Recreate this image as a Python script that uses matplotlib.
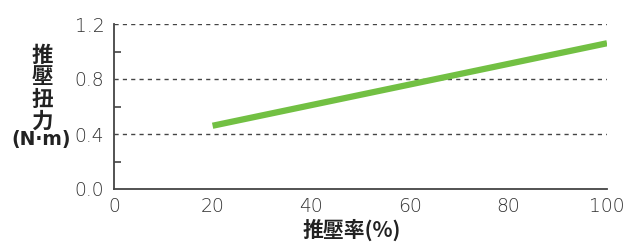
import matplotlib
matplotlib.use("Agg")
import matplotlib.pyplot as plt
import numpy as np

plt.rcParams['font.family'] = ['DejaVu Sans', 'Noto Sans CJK JP']

x_vals = [20, 100]
torque = [0.46, 1.06]
x_ticks = [0, 20, 40, 60, 80, 100]
y_ticks = [0.0, 0.4, 0.8, 1.2]
y_minor = [0.2, 0.6, 1.0]
x_label = "推壓率(%)"
y_label_chars = ["推", "壓", "扭", "力"]
y_label_unit = "(N·m)"

fig = plt.figure(figsize=(6.38, 2.42), dpi=100)
ax = fig.add_axes([114/638, 53/242, 493/638, 165/242])

ax.plot(x_vals, torque, color="#72c043", lw=4.5, solid_capstyle="butt", zorder=3)

for y in y_ticks[1:]:
    ax.axhline(y, color="#444444", lw=1.0, ls=(0, (3, 3)), zorder=1)

ax.set_xlim(0, 100)
ax.set_ylim(0, 1.2)
ax.set_xticks(x_ticks)
ax.set_xticklabels([str(v) for v in x_ticks])
ax.set_yticks(y_ticks)
ax.set_yticklabels([f"{v:.1f}" for v in y_ticks])
ax.set_yticks(y_minor, minor=True)

for s in ["top", "right"]:
    ax.spines[s].set_visible(False)
for s in ["left", "bottom"]:
    ax.spines[s].set_color("#444444")
    ax.spines[s].set_linewidth(1.3)

ax.tick_params(axis="both", which="major", length=0, labelsize=13.5, labelcolor="#333333")
ax.tick_params(axis="x", pad=6)
ax.tick_params(axis="y", pad=7)
ax.tick_params(axis="y", which="minor", direction="in", length=5, width=1.2, color="#444444")
for lab in ax.get_xticklabels() + ax.get_yticklabels():
    lab.set_fontweight(200)

ax.set_xlabel(x_label, fontsize=15, fontweight="bold", color="#222222",
              family=['Noto Sans CJK JP', 'DejaVu Sans'])
ax.xaxis.set_label_coords((352 - 114) / 493, (189 - 230) / 165)
ax.xaxis.label.set_va("center")

for i, ch in enumerate(y_label_chars):
    fig.text(42/638, 1 - (55 + 22 * i)/242, ch, ha="center", va="center",
             fontsize=15.5, fontweight="bold", color="#222222",
             family=['Noto Sans CJK JP'])
fig.text(41/638, 1 - 139/242, y_label_unit, ha="center", va="center",
         fontsize=13.5, fontweight="bold", color="#222222")

fig.savefig("out.png", dpi=100)
